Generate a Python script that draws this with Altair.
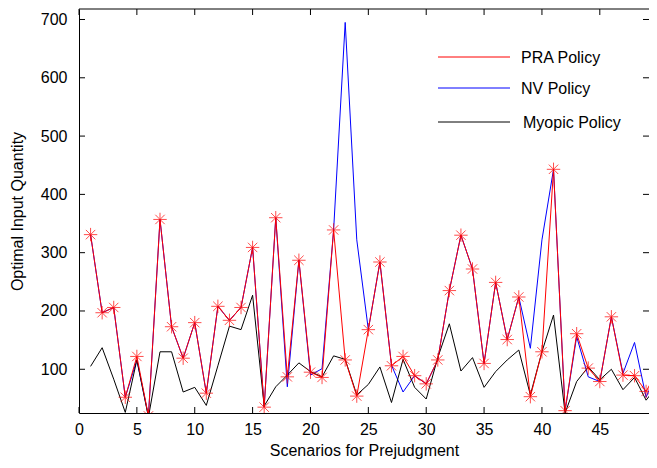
import altair as alt
import pandas as pd

# ---- data ----
scenarios = list(range(1, 51))
pra = [331, 197, 206, 52, 122, 20, 357, 173, 119, 180,
       59, 208, 184, 206, 309, 35, 360, 87, 287, 95,
       86, 339, 116, 54, 168, 284, 106, 122, 89, 75,
       116, 235, 330, 272, 110, 249, 151, 224, 53, 130,
       443, 29, 161, 102, 79, 190, 90, 89, 62, 98]
nv = [331, 197, 206, 52, 116, 20, 357, 173, 119, 180,
      59, 208, 184, 206, 309, 35, 360, 70, 287, 90,
      101, 339, 695, 322, 168, 284, 107, 61, 89, 75,
      116, 235, 330, 272, 110, 249, 151, 224, 136, 322,
      443, 29, 156, 87, 79, 190, 93, 146, 52, 98]
myopic = [105, 137, 83, 26, 116, 18, 130, 130, 61, 69,
          38, 106, 174, 168, 227, 37, 70, 90, 111, 96,
          87, 123, 117, 56, 74, 104, 43, 117, 69, 49,
          120, 178, 97, 120, 69, 96, 116, 133, 56, 130,
          193, 25, 79, 104, 82, 100, 65, 86, 47, 72]
x_ticks = [0, 5, 10, 15, 20, 25, 30, 35, 40, 45]
y_ticks = [100, 200, 300, 400, 500, 600, 700]
legend_labels = ["PRA Policy", "NV Policy", "Myopic Policy"]
legend_colors = ["#ff0000", "#0000ff", "#000000"]

X_TITLE = "Scenarios for Prejudgment"
Y_TITLE = "Optimal Input Quantity"
FONT = "Liberation Sans"
PAD_L, PAD_T, PAD_B = 71, 1, 47
W, H = 641 - PAD_L, 404

df = pd.DataFrame({"scenario": scenarios, "PRA": pra, "NV": nv, "Myopic": myopic})
xt = pd.DataFrame({"scenario": x_ticks})
yt = pd.DataFrame({"value": y_ticks})
one = pd.DataFrame({"k": [0]})

xs = alt.Scale(domain=[0, 49.25], nice=False, zero=False)
ys = alt.Scale(domain=[25, 718], nice=False, zero=False)

x_axis = alt.Axis(values=x_ticks, ticks=False, tickSize=0, labelPadding=8,
                  labelFlush=False, titlePadding=5, grid=False, format="d",
                  title=X_TITLE)
y_axis = alt.Axis(values=y_ticks, ticks=False, tickSize=0, labelPadding=12,
                  labelFlush=False, titlePadding=15, grid=False, format="d",
                  title=Y_TITLE)


def X(field):
    return alt.X(f"{field}:Q", scale=xs, axis=x_axis, title=X_TITLE)


def Y(field):
    return alt.Y(f"{field}:Q", scale=ys, axis=y_axis, title=Y_TITLE)


base = alt.Chart(df)


def line(field, color):
    return base.mark_line(color=color, strokeWidth=1, clip=True).encode(
        x=X("scenario"), y=Y(field))


nv_line = line("NV", "#0000ff")
my_line = line("Myopic", "#000000")
pra_line = line("PRA", "#ff0000")

star = "M-1,0L1,0M0,-1L0,1M-0.7,-0.7L0.7,0.7M-0.7,0.7L0.7,-0.7"
pra_pts = base.mark_point(shape=star, size=180, filled=False, color="#ff0000",
                          strokeWidth=1, clip=True).encode(
    x=X("scenario"), y=Y("PRA"))

# inward tick marks (bottom, top, left, right)
tk = 6
xb = alt.Chart(xt).mark_rule(color="black", strokeWidth=1).encode(
    x=X("scenario"), y=alt.value(H), y2=alt.value(H - tk))
xtp = alt.Chart(xt).mark_rule(color="black", strokeWidth=1).encode(
    x=X("scenario"), y=alt.value(0), y2=alt.value(tk))
yl = alt.Chart(yt).mark_rule(color="black", strokeWidth=1).encode(
    y=Y("value"), x=alt.value(0), x2=alt.value(tk))
yr = alt.Chart(yt).mark_rule(color="black", strokeWidth=1).encode(
    y=Y("value"), x=alt.value(W - tk), x2=alt.value(W))
top_border = alt.Chart(one).mark_rule(color="black", strokeWidth=1).encode(
    x=alt.value(0), x2=alt.value(W), y=alt.value(0), y2=alt.value(0))

# manual legend inside the plot
leg_layers = []
leg_y = [48, 79, 113]
leg_tx = [442, 442, 444]
for lab, col, yy, tx in zip(legend_labels, legend_colors, leg_y, leg_tx):
    leg_layers.append(alt.Chart(one).mark_rule(color=col, strokeWidth=1).encode(
        x=alt.value(359), x2=alt.value(431), y=alt.value(yy)))
    leg_layers.append(alt.Chart(one).mark_text(
        align="left", baseline="middle", font=FONT, fontSize=16, color="black").encode(
        x=alt.value(tx), y=alt.value(yy + 1), text=alt.value(lab)))

chart = alt.layer(
    nv_line, my_line, pra_line, pra_pts,
    xb, xtp, yl, yr, top_border, *leg_layers
).properties(
    width=W, height=H,
    padding={"left": PAD_L, "top": PAD_T, "right": 0, "bottom": PAD_B},
    autosize=alt.AutoSizeParams(type="none"),
    background="white",
).configure_view(stroke=None).configure_axis(
    domainColor="black", domainWidth=1,
    labelFont=FONT, labelFontSize=16, labelColor="black",
    titleFont=FONT, titleFontSize=16, titleFontWeight="normal", titleColor="black",
)

chart.save("out.html", embed_options={"renderer": "svg", "actions": False})
